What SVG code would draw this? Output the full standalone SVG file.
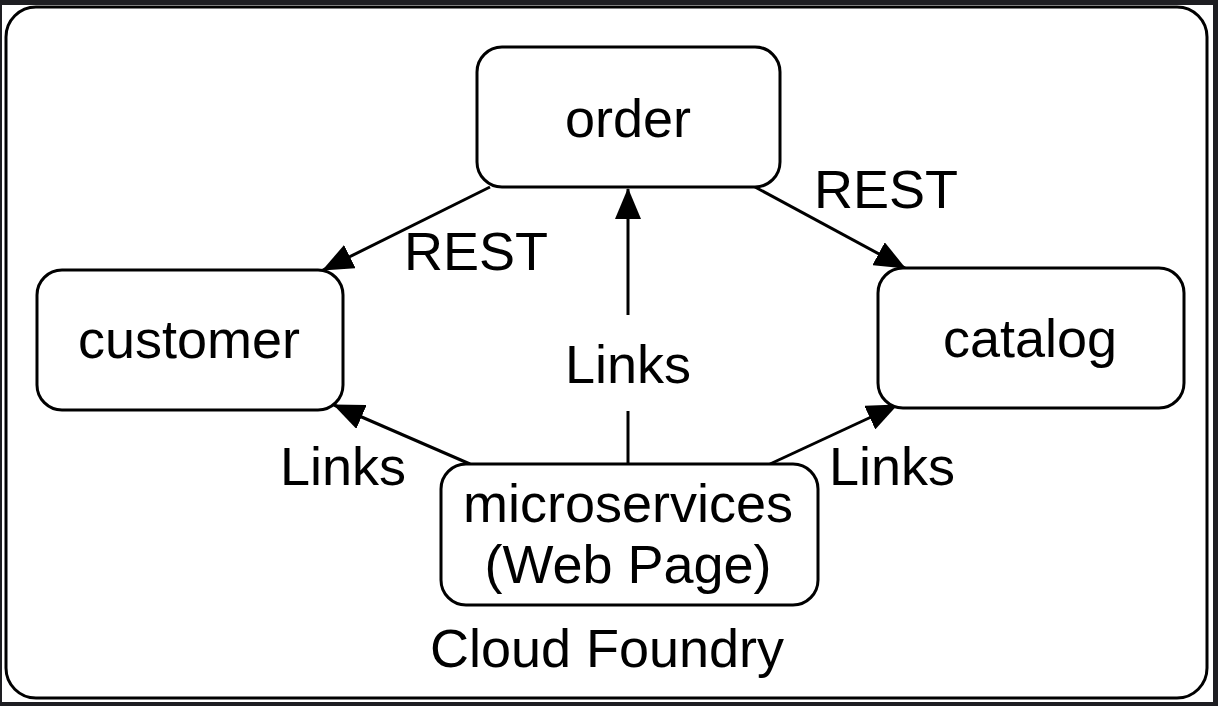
<svg xmlns="http://www.w3.org/2000/svg" width="1218" height="706" viewBox="0 0 1218 706">
<style>
.node{fill:#fff;stroke:#000;stroke-width:3}
.lbl{font-family:"Liberation Sans",Arial,Helvetica,sans-serif;font-size:54px;fill:#000;text-anchor:middle}
.edge{stroke:#000;stroke-width:3;fill:none}
</style>
<defs>
<marker id="arr" markerUnits="userSpaceOnUse" viewBox="0 0 31 26" refX="30" refY="13" markerWidth="31" markerHeight="26" orient="auto">
<path d="M0,0 L31,13 L0,26 Z" fill="#000"/>
</marker>
</defs>
<rect x="0" y="0" width="1218" height="706" fill="#1e1e22"/>
<rect x="2" y="5" width="1211" height="697" fill="#fff"/>
<g id="cloud-foundry">
<rect x="6" y="7" width="1201" height="691" rx="30" class="node" fill="none"/>
<text x="607" y="667" class="lbl">Cloud Foundry</text>
</g>
<g id="connectors">
<line class="edge" x1="490" y1="187" x2="323" y2="270" marker-end="url(#arr)"/>
<text x="476" y="270" class="lbl">REST</text>
<line class="edge" x1="755" y1="187" x2="905" y2="268" marker-end="url(#arr)"/>
<text x="886" y="208" class="lbl">REST</text>
<line class="edge" x1="628" y1="464" x2="628" y2="411"/>
<line class="edge" x1="628" y1="315" x2="628" y2="189" marker-end="url(#arr)"/>
<text x="628" y="383" class="lbl">Links</text>
<line class="edge" x1="470" y1="464" x2="334" y2="405" marker-end="url(#arr)"/>
<text x="343" y="485" class="lbl">Links</text>
<line class="edge" x1="770" y1="464" x2="897" y2="405" marker-end="url(#arr)"/>
<text x="892" y="485" class="lbl">Links</text>
</g>
<g id="order">
<rect x="477" y="47" width="303" height="140" rx="25" class="node"/>
<text x="628" y="137" class="lbl">order</text>
</g>
<g id="customer">
<rect x="37" y="270" width="306" height="140" rx="25" class="node"/>
<text x="189" y="358" class="lbl">customer</text>
</g>
<g id="catalog">
<rect x="878" y="268" width="306" height="140" rx="25" class="node"/>
<text x="1030" y="357" class="lbl">catalog</text>
</g>
<g id="microservices">
<rect x="441" y="464" width="377" height="141" rx="25" class="node"/>
<text x="628" y="522" class="lbl">microservices</text>
<text x="628" y="583" class="lbl">(Web Page)</text>
</g>
</svg>
